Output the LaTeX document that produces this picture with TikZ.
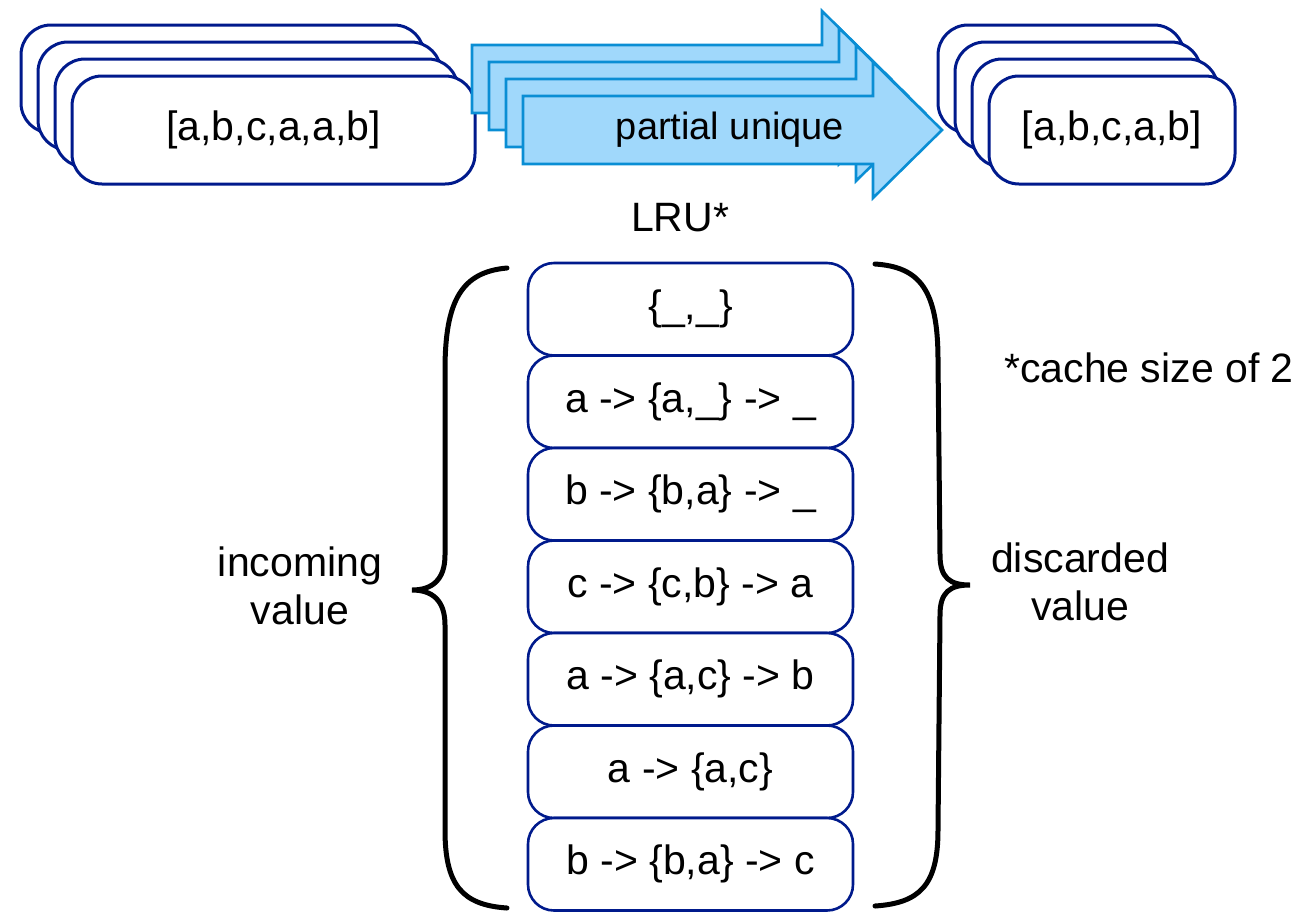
\documentclass[tikz,border=0pt]{standalone}
\usepackage{fontspec}
\setmainfont{Liberation Sans}
\definecolor{cardblue}{RGB}{0,26,140}
\definecolor{arrowfill}{RGB}{160,216,251}
\definecolor{arrowline}{RGB}{10,142,212}
\newcommand\bigtext{\fontsize{41}{48}\selectfont}
\newcommand\arrowtextfont{\fontsize{38}{45}\selectfont}
\begin{document}
\begin{tikzpicture}[x=1pt,y=-1pt,
  card/.style={draw=cardblue, line width=3pt, fill=white, rounded corners=30pt,
    minimum height=108pt, inner sep=0pt, font=\bigtext},
  incard/.style={card, minimum width=403pt},
  outcard/.style={card, minimum width=246pt},
  slot/.style={draw=cardblue, line width=2.6pt, fill=white, rounded corners=26pt,
    minimum width=325pt, minimum height=92.5pt, inner sep=0pt, font=\bigtext},
  bigarrow/.style={draw=arrowline, line width=2.6pt, fill=arrowfill, line join=miter},
  arrowlabel/.style={inner sep=0pt, font=\arrowtextfont},
  label/.style={inner sep=0pt, font=\bigtext, align=center},
  curly/.style={draw=black, line width=5pt, line cap=round}]
\useasboundingbox (0,0) rectangle (1301,911);

% input stack
\foreach \i in {0,1,2}
  \node[incard] (in\i) at (222.5+17*\i,79+17*\i) {};
\node[incard] (in3) at (273.5,130) {[a,b,c,a,a,b]};

% stacked transformation arrows, back to front
\newcommand\stackarrow[1]{%
  \path[bigarrow, shift={(-17*#1,-17*#1)}]
    (523,96) -- (873,96) -- (873,62) -- (942,130) -- (873,198)
    -- (873,164) -- (523,164) -- cycle;}
\stackarrow{3}
\node[arrowlabel] (puback) at (679,81) {partial unique};
\stackarrow{2}
\stackarrow{1}
\stackarrow{0}
\node[arrowlabel] (pu) at (730,130) {partial unique};

% output stack
\foreach \i in {0,1,2}
  \node[outcard] (out\i) at (1061+17*\i,79+17*\i) {};
\node[outcard] (out3) at (1112,130) {[a,b,c,a,b]};

\node[label] (lru) at (680,218) {LRU*};
\node[label] (size) at (1149,368) {*cache size of 2};

% cache steps
\node[slot] (s1) at (690.5,309.25) {\{\_,\_\}};
\node[slot] (s2) at (690.5,401.75) {a -> \{a,\_\} -> \_};
\node[slot] (s3) at (690.5,494.25) {b -> \{b,a\} -> \_};
\node[slot] (s4) at (690.5,586.75) {c -> \{c,b\} -> a};
\node[slot] (s5) at (690.5,679.25) {a -> \{a,c\} -> b};
\node[slot] (s6) at (690.5,771.75) {a -> \{a,c\}};
\node[slot] (s7) at (690.5,864.25) {b -> \{b,a\} -> c};

% braces
\path[curly] (507,268) .. controls (462,272) and (445,300) .. (445,370)
  -- (445,555) .. controls (445,580) and (432,590) .. (412,590)
  .. controls (432,590) and (445,600) .. (445,625)
  -- (445,830) .. controls (445,885) and (462,905) .. (507,908);
\path[curly] (875,264) .. controls (920,267) and (938,290) .. (938,360)
  -- (940,555) .. controls (940,578) and (950,585) .. (970,585)
  .. controls (950,585) and (940,592) .. (940,615)
  -- (938,830) .. controls (938,885) and (920,903) .. (875,906);

\node[label] (inval) at (300,586) {incoming\\value};
\node[label] (outval) at (1080,582) {discarded\\value};
\end{tikzpicture}
\end{document}
